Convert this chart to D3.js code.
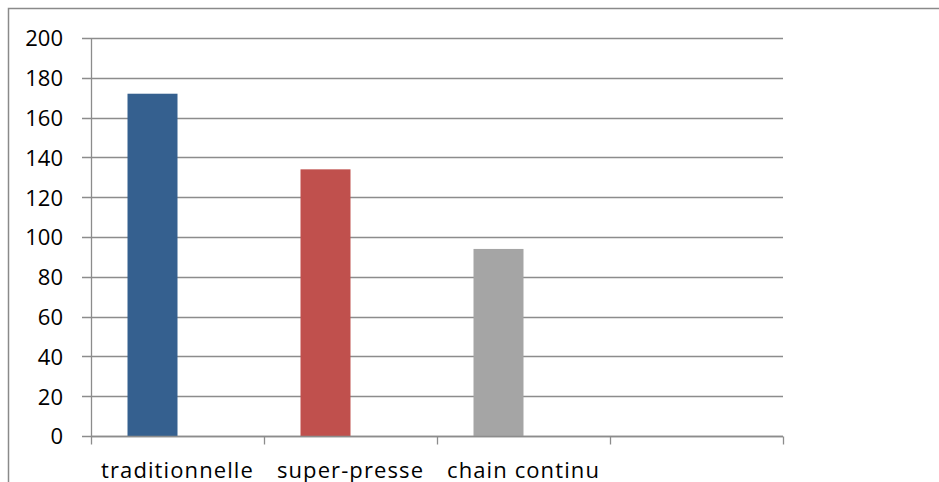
<!DOCTYPE html>
<html>
<head>
<meta charset="utf-8">
<script src="https://cdn.jsdelivr.net/npm/d3@7"></script>
<style>
  html, body { margin: 0; padding: 0; background: #fff; }
  svg { display: block; }
  text { font-family: "Open Sans", "Liberation Sans", sans-serif; fill: #000; }
</style>
</head>
<body>
<svg id="chart" width="939" height="482"></svg>
<script>
// Production by method
const categories = ["traditionnelle", "super-presse", "chain continu", ""];
const seriesNames = ["Série1", "Série2"];
const series1 = [172, 134, 94, null];
const series2 = [null, null, null, null];
const yTicks = [0, 20, 40, 60, 80, 100, 120, 140, 160, 180, 200];
const colors = ["#35608f", "#c0504d", "#a5a5a5"];

const svg = d3.select("#chart");
const W = 939, H = 482;
const plot = { left: 91, right: 783, top: 38, bottom: 436 };
const fontSize = "22px";

// Chart frame (cropped at right and bottom)
svg.append("path")
  .attr("d", `M8.5,${H} V8.5 H${W}`)
  .attr("fill", "none")
  .attr("stroke", "#8a8a8a")
  .attr("stroke-width", 1.5);

const x = d3.scaleBand().domain(categories.map((c, i) => i))
  .range([plot.left, plot.right]).padding(0);
const bw = x.bandwidth();
const x1 = d3.scaleBand().domain(seriesNames)
  .range([bw * 0.211, bw * 0.789]).padding(0);
const y = d3.scaleLinear().domain([0, 200]).range([plot.bottom, plot.top]);

// Horizontal gridlines
svg.append("g")
  .selectAll("line").data(yTicks).join("line")
  .attr("x1", plot.left - 9).attr("x2", plot.right)
  .attr("y1", d => Math.round(y(d)) + 0.5).attr("y2", d => Math.round(y(d)) + 0.5)
  .attr("stroke", "#8c8c8c").attr("stroke-width", 1.3);

// Y axis labels
const yAxis = d3.axisLeft(y).tickValues(yTicks).tickSize(0).tickFormat(d3.format("d"));
const gy = svg.append("g").attr("transform", `translate(${plot.left - 28},0)`).call(yAxis);
gy.attr("font-family", null).attr("font-size", null);
gy.select(".domain").remove();
gy.selectAll("text")
  .attr("x", 0)
  .style("font-size", fontSize)
  .attr("dy", "0.36em");

// Vertical axis line
svg.append("line")
  .attr("x1", plot.left + 0.5).attr("x2", plot.left + 0.5)
  .attr("y1", plot.top).attr("y2", plot.bottom)
  .attr("stroke", "#8c8c8c").attr("stroke-width", 1.3);

// Bars
svg.append("g").selectAll("rect")
  .data(series1.map((v, i) => ({ v, i })).filter(d => d.v != null))
  .join("rect")
  .attr("x", d => x(d.i) + x1("Série1"))
  .attr("width", x1.bandwidth())
  .attr("y", d => y(d.v))
  .attr("height", d => y(0) - y(d.v))
  .attr("fill", d => colors[d.i]);

// Category axis
const gx = svg.append("g").attr("transform", `translate(0,${plot.bottom + 0.5})`);
gx.append("line")
  .attr("x1", plot.left).attr("x2", plot.right)
  .attr("stroke", "#8c8c8c").attr("stroke-width", 1.3);
const boundaries = d3.range(categories.length + 1).map(i => plot.left + i * bw);
gx.selectAll("line.tick").data(boundaries).join("line")
  .attr("class", "tick")
  .attr("x1", d => Math.round(d) + 0.5).attr("x2", d => Math.round(d) + 0.5)
  .attr("y1", 0).attr("y2", 8)
  .attr("stroke", "#8c8c8c").attr("stroke-width", 1.3);
gx.selectAll("text").data(categories).join("text")
  .attr("x", (d, i) => x(i) + bw / 2)
  .attr("y", 41)
  .attr("text-anchor", "middle")
  .style("font-size", fontSize)
  .style("letter-spacing", "1.1px")
  .text(d => d);
</script>
</body>
</html>
